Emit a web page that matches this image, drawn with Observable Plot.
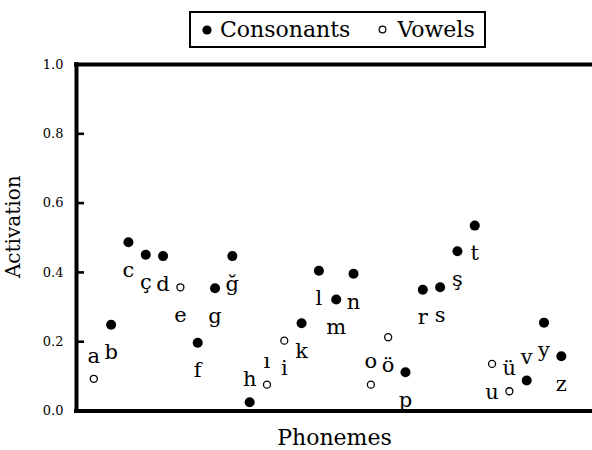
<!DOCTYPE html>
<html>
<head>
<meta charset="utf-8">
<script src="https://cdn.jsdelivr.net/npm/d3@7"></script>
<script src="https://cdn.jsdelivr.net/npm/@observablehq/plot@0.6"></script>
<style>
  html, body { margin: 0; padding: 0; background: #fff; }
  body { font-family: "DejaVu Serif", "Liberation Serif", serif; width: 592px; height: 450px; overflow: hidden; }
  #legendWrap { position: relative; height: 52px; }
  #legend {
    position: absolute; left: 189px; top: 11px; width: 297px; height: 37px;
    box-sizing: border-box; border: 2.5px solid #000; display: flex; align-items: center;
    padding-left: 11px; font-size: 22px; color: #000;
  }
  #legend .item { display: flex; align-items: center; }
  #legend svg { display: block; }
</style>
</head>
<body>
<div id="legendWrap"><div id="legend"></div></div>
<div id="chart"></div>
<script>
// ---- data ----
const phonemes = ["a","b","c","ç","d","e","f","g","ğ","h","ı","i","k","l","m","n","o","ö","p","r","s","ş","t","u","ü","v","y","z"];
const activation = [0.093,0.249,0.487,0.451,0.447,0.357,0.197,0.354,0.447,0.025,0.076,0.203,0.253,0.405,0.322,0.396,0.076,0.213,0.112,0.350,0.357,0.461,0.535,0.136,0.057,0.088,0.255,0.158];
const vowels = ["a","e","ı","i","o","ö","u","ü"];
const labelSide = ["above","below","below","below","below","below","below","below","below","above","above","below","below","below","below","below","above","below","below","below","below","below","below","below","above","above","below","below"];
const seriesNames = ["Consonants","Vowels"];
const yTicks = [0, 0.2, 0.4, 0.6, 0.8, 1.0];
const xLabel = "Phonemes";
const yLabel = "Activation";

const rows = phonemes.map((p, i) => ({
  phoneme: p,
  index: i,
  activation: activation[i],
  type: vowels.includes(p) ? "Vowels" : "Consonants",
  side: labelSide[i]
}));

// ---- legend ----
const legend = document.getElementById("legend");
seriesNames.forEach((name, k) => {
  const item = document.createElement("div");
  item.className = "item";
  item.style.marginLeft = k === 0 ? "0px" : "28px";
  const isVowel = name === "Vowels";
  const s = isVowel ? 9 : 10;
  item.innerHTML = `<svg width="${s}" height="${s}"><circle cx="${s/2}" cy="${s/2}" r="${isVowel ? 3.4 : 4.6}" fill="${isVowel ? '#fff' : '#000'}" stroke="#000" stroke-width="${isVowel ? 1.2 : 0}"/></svg><span style="margin-left:${isVowel ? 10 : 8}px">${name}</span>`;
  legend.appendChild(item);
});

// ---- plot ----
const font = "DejaVu Serif, Liberation Serif, serif";
const plot = Plot.plot({
  width: 592,
  height: 398,
  marginLeft: 76,
  marginRight: 0,
  marginTop: 12,
  marginBottom: 39.5,
  style: { fontFamily: font, background: "white", color: "black", overflow: "visible" },
  x: { domain: [-1, 28.8], axis: null },
  y: { domain: [0, 1], axis: null },
  marks: [
    Plot.axisY({ ticks: yTicks, anchor: "right", frameAnchor: "left", tickSize: 7, strokeWidth: 2.6, tickFormat: () => null, label: null }),
    Plot.axisY({ ticks: yTicks, anchor: "left", tickSize: 0, tickPadding: 13, tickFormat: d3.format(".1f"), fontSize: 13, label: null }),
    Plot.ruleY([0, 1], { strokeWidth: 4, strokeLinecap: "square" }),
    Plot.ruleX([-1], { y1: 0, y2: 1, strokeWidth: 4, strokeLinecap: "square" }),
    Plot.dot(rows.filter(d => d.type === "Consonants"), { x: "index", y: "activation", r: 5, fill: "black" }),
    Plot.dot(rows.filter(d => d.type === "Vowels"), { x: "index", y: "activation", r: 3.5, fill: "white", stroke: "black", strokeWidth: 1.3 }),
    Plot.text(rows.filter(d => d.side === "above"), { x: "index", y: "activation", text: "phoneme", dy: -23, fontSize: 21 }),
    Plot.text(rows.filter(d => d.side === "below"), { x: "index", y: "activation", text: "phoneme", dy: 28, fontSize: 21 }),
    Plot.text([xLabel], { frameAnchor: "bottom", textAnchor: "middle", lineAnchor: "middle", dy: 27, fontSize: 22 }),
    Plot.text([yLabel], { frameAnchor: "left", textAnchor: "middle", lineAnchor: "middle", rotate: -90, dx: -63, dy: -11, fontSize: 20 })
  ]
});
document.getElementById("chart").appendChild(plot);
</script>
</body>
</html>
